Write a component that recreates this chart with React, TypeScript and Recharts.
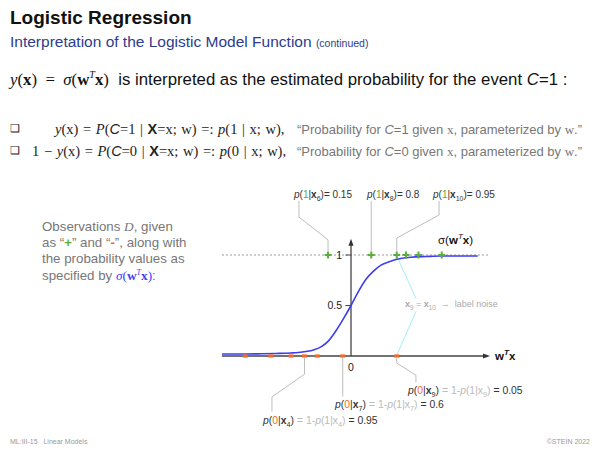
import { ComposedChart, Line, Scatter, XAxis, YAxis } from 'recharts';

// sigmoid curve (x in w^T x units, y = probability)
const curveT = [-8.6, -7, -6, -5, -4, -3.5, -3, -2.5, -2, -1.5, -1, -0.5, 0, 0.5, 1, 1.5, 2, 2.5, 3, 3.5, 4, 5, 6, 7, 8.45];
const curveY = [0.02, 0.02, 0.022, 0.025, 0.03, 0.035, 0.045, 0.06, 0.09, 0.15, 0.25, 0.37, 0.5, 0.64, 0.76, 0.84, 0.9, 0.93, 0.955, 0.97, 0.978, 0.985, 0.99, 0.99, 0.99];

// observations: "+" sit at y=1, "-" at y=0
const posT = [-1.53, 1.35, 3.05, 3.67, 4.5, 6.05];
const negT = [-7.05, -5.35, -4.0, -3.1, -2.25, -0.55, 3.05];

const yTicks = [0.5, 1];
const yTickLabels = ['0.5', '1'];

// annotated observations
const topIdx = ['6', '8', '10'];
const topProb = ['0.15', '0.8', '0.95'];
const botIdx = ['4', '7', '9'];
const botProb = ['0.95', '0.6', '0.05'];

const X_MIN = -8.6;
const X_MAX = 9.2667;

const curve = curveT.map((t, i) => ({ t, y: curveY[i] }));
const pos = posT.map((t) => ({ t, y: 1 }));
const neg = negT.map((t) => ({ t, y: 0 }));
const ticks = yTicks.map((y, i) => ({ t: 0, y, label: yTickLabels[i] }));

const GREEN = '#5aae3c';
const ORANGE = '#f26b2a';
const BLUE = '#3d3df2';
const GRAY_LINE = '#bdbdbd';
const CYAN = '#9ff0f8';

// callout polylines, ending at the marked observations
const calloutTop = [
  [{ t: -3.47, y: 1.535 }, { t: -3.47, y: 1.376 }, { t: posT[0], y: 1.15 }, { t: posT[0], y: 1.04 }],
  [{ t: posT[1], y: 1.535 }, { t: posT[1], y: 1.04 }],
  [{ t: 5.87, y: 1.535 }, { t: 5.87, y: 1.396 }, { t: posT[2], y: 1.168 }, { t: posT[2], y: 1.04 }],
];
const calloutBot = [
  [{ t: negT[3], y: -0.02 }, { t: negT[3], y: -0.18 }, { t: -5.27, y: -0.405 }, { t: -5.27, y: -0.55 }],
  [{ t: negT[5], y: -0.02 }, { t: negT[5], y: -0.4 }],
  [{ t: negT[6], y: -0.02 }, { t: negT[6], y: -0.07 }, { t: 4.33, y: -0.19 }, { t: 4.33, y: -0.26 }],
];
const noise = [
  [{ t: posT[2], y: 0.99 }, { t: 4.33, y: 0.57 }],
  [{ t: 4.33, y: 0.44 }, { t: negT[6], y: 0.01 }],
];

const PlusShape = (p: any) => (
  <g stroke={GREEN} strokeWidth={2}>
    <line x1={p.cx - 3.5} x2={p.cx + 3.5} y1={p.cy} y2={p.cy} />
    <line x1={p.cx} x2={p.cx} y1={p.cy - 3.5} y2={p.cy + 3.5} />
  </g>
);

const MinusShape = (p: any) => (
  <rect x={p.cx - 2.5} y={p.cy - 1.6} width={5} height={3.2} fill={ORANGE} />
);

const TickShape = (p: any) => (
  <g>
    <line x1={p.cx - 5.5} x2={p.cx} y1={p.cy} y2={p.cy} stroke="#444" strokeWidth={1} />
    <text x={p.cx - 9} y={p.cy + 3.5} textAnchor="end" fontSize={10.5} fill="#222" fontFamily="Liberation Sans">
      {p.payload.label}
    </text>
  </g>
);

const OriginShape = (p: any) => (
  <text x={p.cx - 3} y={p.cy + 15} fontSize={10.5} fill="#222" fontFamily="Liberation Sans">0</text>
);

const ArrowRight = (p: any) => (
  <path d={`M${p.cx},${p.cy} L${p.cx - 7},${p.cy - 2.5} L${p.cx - 7},${p.cy + 2.5} Z`} fill="#333" />
);
const ArrowUp = (p: any) => (
  <path d={`M${p.cx},${p.cy} L${p.cx - 2.5},${p.cy + 7} L${p.cx + 2.5},${p.cy + 7} Z`} fill="#333" />
);

const sans = '"Liberation Sans", Arial, sans-serif';
const serif = '"Liberation Serif", "Times New Roman", serif';

const abs = (left: number, top: number, extra: any = {}) => ({
  position: 'absolute' as const,
  left,
  top,
  whiteSpace: 'nowrap' as const,
  lineHeight: 1,
  ...extra,
});

const supStyle = { fontSize: '0.6em', lineHeight: 0 };
const subStyle = { fontSize: '0.7em', lineHeight: 0 };

const Bx = ({ i }: { i: string }) => (
  <>
    <b>x</b>
    <sub style={subStyle}>{i}</sub>
  </>
);

function TopLabel({ left, idx, prob }: { left: number; idx: string; prob: string }) {
  return (
    <div style={abs(left, 190, { fontSize: 10, color: '#333' })}>
      <i>p</i>(<span style={{ color: GREEN }}>1</span>|<Bx i={idx} />)= {prob}
    </div>
  );
}

function BotLabel({ left, top, idx, prob }: { left: number; top: number; idx: string; prob: string }) {
  return (
    <div style={abs(left, top, { fontSize: 10.4, color: '#333' })}>
      <i>p</i>(<span style={{ color: ORANGE }}>0</span>|<Bx i={idx} />)
      <span style={{ color: '#bbb' }}>
        {' '}= 1-<i>p</i>(1|x<sub style={subStyle}>{idx}</sub>)
      </span>{' '}
      = {prob}
    </div>
  );
}

const seg = (a: number, b: number, y: number) => [{ t: a, y }, { t: b, y }];

export default function App() {
  return (
    <div style={{ position: 'absolute', left: 0, top: 0, width: 600, height: 450, background: '#fff', fontFamily: sans, overflow: 'hidden' }}>
      <div style={{ position: 'absolute', left: 0, top: 0 }}>
        <ComposedChart
          width={600}
          height={450}
          margin={{ left: 222, right: 110, top: 189.35, bottom: 23.3 }}
        >
          <XAxis type="number" dataKey="t" domain={[X_MIN, X_MAX]} allowDataOverflow hide />
          <YAxis type="number" dataKey="y" domain={[-0.7, 1.65]} allowDataOverflow hide />
          {/* dotted level y = 1 */}
          <Line data={seg(X_MIN, X_MAX, 1)} dataKey="y" stroke="#999" strokeDasharray="2 2" strokeWidth={1} dot={false} activeDot={false} type="linear" isAnimationActive={false} />
          {/* axes */}
          <Line data={seg(X_MIN, 8.9, 0)} dataKey="y" stroke="#444" strokeWidth={1.3} dot={false} activeDot={false} type="linear" isAnimationActive={false} />
          <Line data={[{ t: 0, y: 0 }, { t: 0, y: 1.1 }]} dataKey="y" stroke="#444" strokeWidth={1.3} dot={false} activeDot={false} type="linear" isAnimationActive={false} />
          {calloutTop.concat(calloutBot).map((d, i) => (
            <Line key={'c' + i} data={d} dataKey="y" stroke={GRAY_LINE} strokeWidth={1} dot={false} activeDot={false} type="linear" isAnimationActive={false} />
          ))}
          {noise.map((d, i) => (
            <Line key={'n' + i} data={d} dataKey="y" stroke={CYAN} strokeWidth={1} dot={false} activeDot={false} type="linear" isAnimationActive={false} />
          ))}
          <Line data={curve} dataKey="y" stroke={BLUE} strokeWidth={1.6} dot={false} activeDot={false} type="monotone" isAnimationActive={false} />
          <Scatter data={neg} dataKey="y" shape={MinusShape} isAnimationActive={false} />
          <Scatter data={pos} dataKey="y" shape={PlusShape} isAnimationActive={false} />
          <Scatter data={ticks} dataKey="y" shape={TickShape} isAnimationActive={false} />
          <Scatter data={[{ t: 0, y: 0 }]} dataKey="y" shape={OriginShape} isAnimationActive={false} />
          <Scatter data={[{ t: X_MAX, y: 0 }]} dataKey="y" shape={ArrowRight} isAnimationActive={false} />
          <Scatter data={[{ t: 0, y: 1.16 }]} dataKey="y" shape={ArrowUp} isAnimationActive={false} />
        </ComposedChart>
      </div>

      {/* header */}
      <div style={abs(10, 8, { fontSize: 19, fontWeight: 'bold', color: '#111' })}>Logistic Regression</div>
      <div style={abs(10, 34, { fontSize: 15.5, color: '#2e3c8c' })}>
        Interpretation of the Logistic Model Function <span style={{ fontSize: 10.5 }}>(continued)</span>
      </div>

      <div style={abs(10, 72, { fontSize: 16.8, color: '#111' })}>
        <span style={{ fontFamily: serif }}>
          <i>y</i>(<b>x</b>) &nbsp;= &nbsp;<i>σ</i>(<b>w</b>
          <sup style={supStyle}><i>T</i></sup>
          <b>x</b>)
        </span>
        &nbsp; is interpreted as the estimated probability for the event <i>C</i>=1 :
      </div>

      <div style={abs(10, 123, { fontSize: 11, color: '#222' })}>❑</div>
      <div style={abs(10, 145, { fontSize: 11, color: '#222' })}>❑</div>
      <div style={abs(55, 122, { fontSize: 14.5, color: '#222', fontFamily: serif, wordSpacing: 1 })}>
        <i>y</i>(x) = <i>P</i>(<i style={{ fontFamily: sans }}>C</i>=1 | <b style={{ fontFamily: sans }}>X</b>=x; w) =: <i>p</i>(1 | x; w),
      </div>
      <div style={abs(32, 144, { fontSize: 14.5, color: '#222', fontFamily: serif, wordSpacing: 1 })}>
        1 − <i>y</i>(x) = <i>P</i>(<i style={{ fontFamily: sans }}>C</i>=0 | <b style={{ fontFamily: sans }}>X</b>=x; w) =: <i>p</i>(0 | x; w),
      </div>
      <div style={abs(297, 123, { fontSize: 13, color: '#777' })}>
        “Probability for <i>C</i>=1 given <span style={{ fontFamily: serif }}>x</span>, parameterized by <span style={{ fontFamily: serif }}>w</span>.”
      </div>
      <div style={abs(297, 145, { fontSize: 13, color: '#777' })}>
        “Probability for <i>C</i>=0 given <span style={{ fontFamily: serif }}>x</span>, parameterized by <span style={{ fontFamily: serif }}>w</span>.”
      </div>

      {/* side note */}
      <div style={{ position: 'absolute', left: 42, top: 219, fontSize: 13.3, lineHeight: '16.2px', color: '#777' }}>
        Observations <i style={{ fontFamily: serif }}>D</i>, given
        <br />
        as “<b style={{ color: GREEN }}>+</b>” and “<b style={{ color: ORANGE }}>-</b>”, along with
        <br />
        the probability values as
        <br />
        specified by{' '}
        <span style={{ fontFamily: serif, color: BLUE }}>
          <i>σ</i>(<b>w</b>
          <sup style={supStyle}><i>T</i></sup>
          <b>x</b>)
        </span>
        :
      </div>

      {/* chart annotations */}
      <TopLabel left={294} idx={topIdx[0]} prob={topProb[0]} />
      <TopLabel left={367} idx={topIdx[1]} prob={topProb[1]} />
      <TopLabel left={433} idx={topIdx[2]} prob={topProb[2]} />
      <BotLabel left={408} top={386} idx={botIdx[2]} prob={botProb[2]} />
      <BotLabel left={335} top={400} idx={botIdx[1]} prob={botProb[1]} />
      <BotLabel left={263} top={416} idx={botIdx[0]} prob={botProb[0]} />

      <div style={abs(438, 235, { fontSize: 11.5, color: '#111' })}>
        σ(<b>w</b>
        <sup style={{ fontSize: '0.7em', lineHeight: 0 }}><i>T</i></sup>
        <b>x</b>)
      </div>
      <div style={abs(495, 351, { fontSize: 11.5, color: '#111', fontWeight: 'bold' })}>
        w<sup style={{ fontSize: '0.7em', lineHeight: 0 }}><i>T</i></sup>x
      </div>
      <div style={abs(405, 300, { fontSize: 9, color: '#aaa' })}>
        <b>x</b><sub style={subStyle}>9</sub> = <b>x</b><sub style={subStyle}>10</sub> &nbsp;→&nbsp; label noise
      </div>

      {/* footer */}
      <div style={abs(10, 438, { fontSize: 7, color: '#999' })}>ML:III-15 &nbsp; Linear Models</div>
      <div style={abs(0, 438, { fontSize: 7, color: '#999', left: 'auto', right: 10 })}>©STEIN 2022</div>
    </div>
  );
}
